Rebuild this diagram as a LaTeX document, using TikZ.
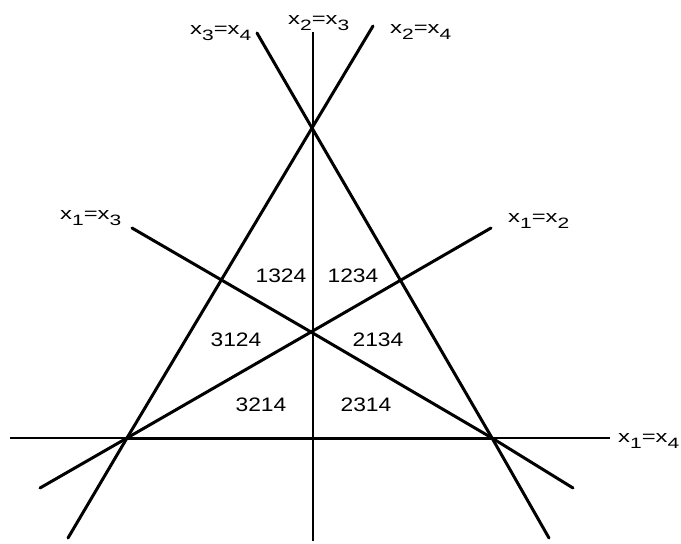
\documentclass[tikz,border=0pt]{standalone}
\usepackage{fontspec}
\usepackage{graphicx}
\setmainfont{Liberation Sans}
\newcommand\sub[1]{\raisebox{-6pt}{\fontsize{15pt}{15pt}\selectfont #1}}
\newcommand\eqlab[2]{\scalebox{1.4}[1]{\fontsize{17pt}{17pt}\selectfont x\sub{#1}=x\sub{#2}}}
\newcommand\perm[1]{\scalebox{1.17}[1]{\fontsize{19.5pt}{19.5pt}\selectfont #1}}
\begin{document}
\begin{tikzpicture}[x=1pt,y=-1pt,
  thickline/.style={line width=3pt,line cap=round},
  thinline/.style={line width=2.2pt},
  lab/.style={inner sep=0pt,anchor=base west},
  permlab/.style={inner sep=0pt,anchor=center}]
\useasboundingbox (0,0) rectangle (681,544);
% key points
\coordinate (A) at (312,128);
\coordinate (B) at (127,438);
\coordinate (C) at (492,438);
\coordinate (O) at (311,332);
% line ends
\coordinate (v1) at (313,32);
\coordinate (v2) at (313,541);
\coordinate (h1) at (10,438);
\coordinate (h2) at (610,438);
\coordinate (a1) at (257,33);
\coordinate (a2) at (549,538);
\coordinate (b1) at (373,26);
\coordinate (b2) at (68,538);
\coordinate (c1) at (132,228);
\coordinate (c2) at (573,488);
\coordinate (d1) at (491,228);
\coordinate (d2) at (40,488);
% lines
\draw[thinline] (v1) -- (v2);
\draw[thinline] (h1) -- (h2);
\draw[line width=3pt] (B) -- (C);
\draw[thickline] (a1) -- (A) -- (C) -- (a2);
\draw[thickline] (b1) -- (A) -- (B) -- (b2);
\draw[thickline] (c1) -- (O) -- (C) -- (c2);
\draw[thickline] (d1) -- (O) -- (B) -- (d2);
% line labels
\node[lab] (l34) at (190,34) {\eqlab{3}{4}};
\node[lab] (l23) at (288,24) {\eqlab{2}{3}};
\node[lab] (l24) at (390,33) {\eqlab{2}{4}};
\node[lab] (l13) at (60,219) {\eqlab{1}{3}};
\node[lab] (l12) at (508,222) {\eqlab{1}{2}};
\node[lab] (l14) at (618,442) {\eqlab{1}{4}};
% region labels
\node[permlab] (p1324) at (281,276) {\perm{1324}};
\node[permlab] (p1234) at (353,276) {\perm{1234}};
\node[permlab] (p3124) at (236,340) {\perm{3124}};
\node[permlab] (p2134) at (378,340) {\perm{2134}};
\node[permlab] (p3214) at (261,405) {\perm{3214}};
\node[permlab] (p2314) at (366,405) {\perm{2314}};
\end{tikzpicture}
\end{document}
